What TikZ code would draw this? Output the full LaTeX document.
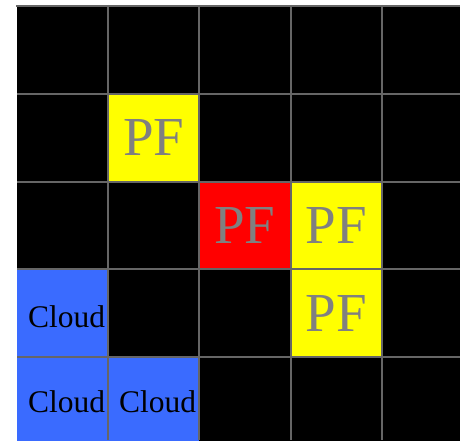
\documentclass[tikz,border=0pt]{standalone}
\usepackage{fontspec}
\setmainfont{Liberation Serif}
\definecolor{cloudblue}{HTML}{3A6BFF}
\definecolor{gridgray}{HTML}{666666}
\definecolor{pfgray}{HTML}{808080}
\definecolor{pfyellow}{RGB}{255,255,0}
\definecolor{pfred}{RGB}{255,0,0}
\begin{document}
\begin{tikzpicture}[x=1pt,y=1pt,
  cell/.style={rectangle,draw=none,inner sep=0pt,minimum width=91.2pt,minimum height=87.8pt,fill=black},
  pfcell/.style={cell,fill=pfyellow,text=pfgray,font=\fontsize{55}{55}\selectfont},
  redcell/.style={pfcell,fill=pfred},
  cloudcell/.style={cell,fill=cloudblue},
  cloudtext/.style={anchor=west,inner sep=0pt,text=black,font=\fontsize{31.5}{31.5}\selectfont},
  gridline/.style={draw=gridgray,line width=2pt}]
\useasboundingbox (0,0) rectangle (460,440);
\clip (0,0) rectangle (460,440);
\fill[white] (0,0) rectangle (460,440);
\foreach \r in {0,...,4}{
  \foreach \c in {0,...,4}{
    \node[cell] (k\r\c) at ({17+91.2*\c+45.6},{440-6-87.8*\r-43.9}) {};
  }
}
\node[pfcell] (pfa) at (k11) {PF};
\node[redcell] (pfb) at (k22) {PF};
\node[pfcell] (pfc) at (k23) {PF};
\node[pfcell] (pfd) at (k33) {PF};
\node[cloudcell] (cla) at (k30) {};
\node[cloudcell] (clb) at (k40) {};
\node[cloudcell] (clc) at (k41) {};
\node[cloudtext] (tla) at ([xshift=11pt,yshift=-3pt]cla.west) {Cloud};
\node[cloudtext] (tlb) at ([xshift=11pt,yshift=-1pt]clb.west) {Cloud};
\node[cloudtext] (tlc) at ([xshift=11pt,yshift=-1pt]clc.west) {Cloud};
\draw[gridline] (16,434) -- (460,434);
\foreach \j in {1,...,4}{
  \draw[gridline] (17,{434-87.8*\j}) -- (460,{434-87.8*\j});
}
\foreach \i in {1,...,4}{
  \draw[gridline] ({17+91.2*\i},435) -- ({17+91.2*\i},0);
}
\end{tikzpicture}
\end{document}
